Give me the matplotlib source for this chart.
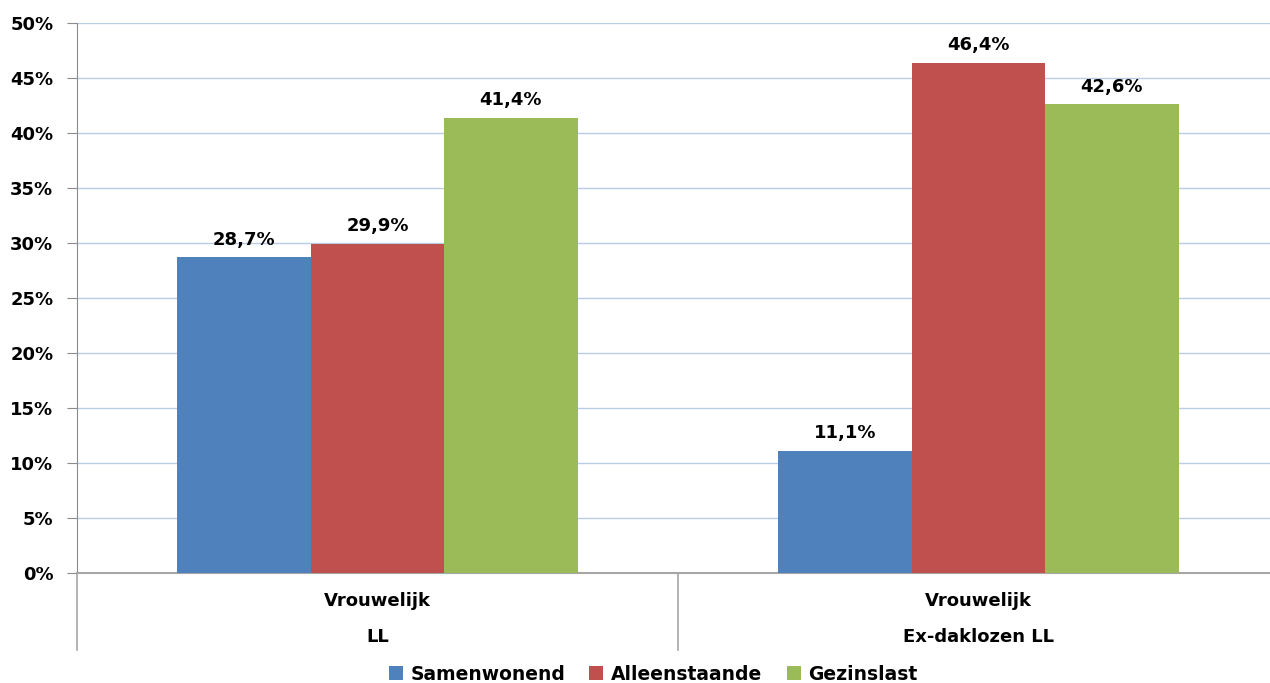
import numpy as np
import matplotlib
matplotlib.use("Agg")
import matplotlib.pyplot as plt
from matplotlib.lines import Line2D

groups_top = ["Vrouwelijk", "Vrouwelijk"]
groups_bottom = ["LL", "Ex-daklozen LL"]
series = ["Samenwonend", "Alleenstaande", "Gezinslast"]
samenwonend = [28.7, 11.1]
alleenstaande = [29.9, 46.4]
gezinslast = [41.4, 42.6]
colors = ["#4F81BD", "#C0504D", "#9BBB59"]

plt.rcParams["font.family"] = "DejaVu Sans"
plt.rcParams["font.weight"] = "bold"
fs = 13

fig = plt.figure(figsize=(12.7, 6.83), dpi=100)
ax = fig.add_axes([77 / 1270, 1 - 573 / 683, 1202 / 1270, 550 / 683])

x = np.arange(len(groups_bottom))
w = 0.222
for i, (vals, name) in enumerate(zip([samenwonend, alleenstaande, gezinslast], series)):
    bars = ax.bar(x + (i - 1) * w, vals, w, color=colors[i], label=name, zorder=3)
    for b, v in zip(bars, vals):
        ax.text(b.get_x() + b.get_width() / 2, v + 0.8, ("%.1f%%" % v).replace(".", ","),
                ha="center", va="bottom", fontsize=fs, fontweight="bold", zorder=4)

ax.set_xlim(-0.5, 1.5)
ax.set_ylim(0, 50)
ax.set_yticks(np.arange(0, 51, 5))
ax.set_yticklabels(["%d%%" % t for t in range(0, 51, 5)], fontsize=fs, fontweight="bold")
ax.yaxis.grid(True, color="#B9CDE8", linewidth=1.0, zorder=0)
ax.tick_params(axis="y", length=7, color="#8C8C8C", pad=10)
ax.set_xticks([])
for s in ["top", "right"]:
    ax.spines[s].set_visible(False)
ax.spines["left"].set_color("#8C8C8C")
ax.spines["bottom"].set_color("#A6A6A6")
ax.spines["bottom"].set_linewidth(1.5)

# category frame below the axis
ax.add_line(Line2D([0, 0], [0, -0.14], transform=ax.transAxes, color="#A6A6A6", lw=1.2, clip_on=False))
ax.add_line(Line2D([0.5, 0.5], [0, -0.14], transform=ax.transAxes, color="#A6A6A6", lw=1.2, clip_on=False))
for xi, top, bot in zip(x, groups_top, groups_bottom):
    ax.text(xi, -0.05, top, transform=ax.get_xaxis_transform(), ha="center", va="center",
            fontsize=fs, fontweight="bold")
    ax.text(xi, -0.117, bot, transform=ax.get_xaxis_transform(), ha="center", va="center",
            fontsize=fs, fontweight="bold")

fig.legend(loc="center", bbox_to_anchor=(653 / 1270, 1 - 674 / 683), ncol=3, frameon=False,
           fontsize=13.5, handlelength=0.75, handleheight=0.75, handletextpad=0.4,
           columnspacing=1.3, borderpad=0)

fig.savefig("out.png", dpi=100)
